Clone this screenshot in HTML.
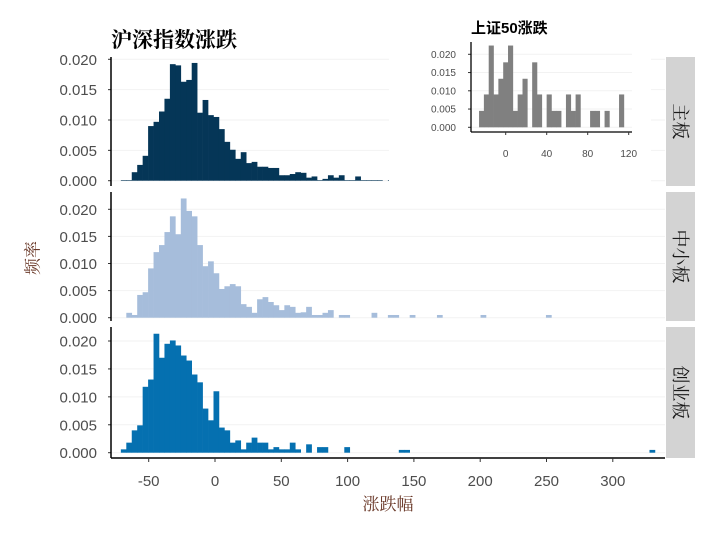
<!DOCTYPE html>
<html><head><meta charset="utf-8"><style>
body{margin:0;background:#fff}
svg{display:block;font-family:"Liberation Sans","Noto Sans CJK SC",sans-serif}
</style></head><body>
<svg id="chart" width="720" height="540" viewBox="0 0 720 540"></svg>
<script>
// ---- data ----
const binStart = -71;
const binWidth = 4.11;
const mainBoard = [0.0001,0.0001,0.0014,0.0026,0.0041,0.0090,0.0097,0.0114,0.0135,0.0192,0.0190,0.0163,0.0166,0.0194,0.0112,0.0133,0.0108,0.0105,0.0085,0.0064,0.0051,0.0036,0.0047,0.0029,0.0031,0.0023,0.0023,0.0021,0.0021,0.0009,0.0009,0.0011,0.0014,0.0013,0.0005,0.0007,0.0001,0.0003,0.0009,0.0005,0.0009,0.0001,0.0001,0.0007,0.0001,0.0001,0.0001,0.0001,0,0.0001];
const smeBoard = [0,0.0009,0.0005,0.0042,0.0047,0.0091,0.0121,0.0134,0.0158,0.0187,0.0154,0.0220,0.0197,0.0187,0.0134,0.0095,0.0104,0.0082,0.0053,0.0058,0.0062,0.0058,0.0025,0.0020,0.0009,0.0034,0.0038,0.0029,0.0023,0.0014,0.0023,0.0020,0.0009,0.0010,0.0020,0.0005,0.0005,0.0009,0.0014,0,0.0005,0.0005,0,0,0,0,0.0009,0,0,0.0005,0.0005,0,0,0.0005,0,0,0,0,0.0005,0,0,0,0,0,0,0,0.0005,0,0,0,0,0,0,0,0,0,0,0,0.0005];
const gemBoard = [0.0006,0.0018,0.0040,0.0049,0.0118,0.0131,0.0213,0.0170,0.0195,0.0201,0.0192,0.0174,0.0165,0.0140,0.0126,0.0079,0.0058,0.0110,0.0045,0.0040,0.0018,0.0022,0.0006,0.0018,0.0027,0.0018,0.0018,0.0006,0.0010,0.0006,0.0006,0.0018,0.0006,0,0.0015,0,0.0010,0.0010,0,0,0,0.0010,0,0,0,0,0,0,0,0,0,0.0005,0.0005,0,0,0,0,0,0,0,0,0,0,0,0,0,0,0,0,0,0,0,0,0,0,0,0,0,0,0,0,0,0,0,0,0,0,0,0,0,0,0,0,0,0,0,0,0.0005];
const insetStart = -26;
const insetWidth = 4.71;
const sz50 = [0.0045,0.009,0.0224,0.009,0.0133,0.0178,0.0224,0.0045,0.009,0.0133,0,0.0178,0.009,0,0.009,0.0045,0.0045,0,0.009,0.0045,0.009,0,0,0.0045,0.0045,0,0.0045,0,0,0.009];
const xTicks = [-50,0,50,100,150,200,250,300];
const yTicks = [0,0.005,0.010,0.015,0.020];
const insetXTicks = [0,40,80,120];
const facetLabels = ["主板","中小板","创业板"];

const svg = document.getElementById('chart');
const NS = 'http://www.w3.org/2000/svg';
function mk(tag, attrs, parent){const e=document.createElementNS(NS,tag);for(const k in attrs)e.setAttribute(k,attrs[k]);(parent||svg).appendChild(e);return e;}
const xs = v => 215 + v*1.326;
const panels = [
  {data:mainBoard,color:'#053657',top:57,bot:186,base:180.7,k:6070},
  {data:smeBoard,color:'#a6bddb',top:192,bot:321,base:317.7,k:5420},
  {data:gemBoard,color:'#0570b0',top:327,bot:458,base:452.7,k:5585}
];
panels.forEach((p,pi)=>{
  const g = mk('g',{});
  
  
  const ys = v => p.base - v*p.k;
  yTicks.forEach(t=>{
    const gl=mk('line',{x1:111,x2:665,y1:ys(t),y2:ys(t),stroke:'#f2f2f2','stroke-width':1},g);
    
    
    const tk=mk('line',{x1:108,x2:111,y1:ys(t),y2:ys(t),stroke:'#333','stroke-width':1},g);
    
    
    const tx=mk('text',{x:97,y:ys(t)+5.5,'text-anchor':'end','font-size':15,fill:'#4d4d4d'},g);
    tx.textContent=t.toFixed(3);
    
    
  });
  p.data.forEach((v,i)=>{
    if(v<=0)return;
    const x0=xs(binStart+i*binWidth), x1=xs(binStart+(i+1)*binWidth);
    const r=mk('rect',{x:x0,y:ys(v),width:x1-x0+0.3,height:p.base-ys(v),fill:p.color},g);
    
    
  });
  const ax=mk('line',{x1:111,x2:111,y1:p.top,y2:p.bot,stroke:'#000','stroke-width':1.5},g);
  
  
  const st=mk('rect',{x:666,y:p.top,width:29,height:p.bot-p.top,fill:'#d3d3d3'},g);
  
  
  const cy=(p.top+p.bot)/2;
  const sl=mk('text',{x:680,y:cy,'text-anchor':'middle','dominant-baseline':'central','font-size':18,fill:'#1a1a1a',transform:`rotate(90 680 ${cy})`,'font-family':'"Liberation Serif","Noto Serif CJK SC",serif'},g);
  sl.textContent=facetLabels[pi];
  
  
});
// x axis
const xa=mk('line',{x1:111,x2:665,y1:458,y2:458,stroke:'#000','stroke-width':1.5});


xTicks.forEach(t=>{
  const tk=mk('line',{x1:xs(t),x2:xs(t),y1:458,y2:462,stroke:'#333'});
  
  
  const tx=mk('text',{x:xs(t),y:486,'text-anchor':'middle','font-size':15,fill:'#4d4d4d'});
  tx.textContent=t<0?'-'+Math.abs(t):String(t);
  
  
});
const xt=mk('text',{x:388,y:510,'text-anchor':'middle','font-size':17,fill:'#6b3a2a','font-family':'"Liberation Serif","Noto Serif CJK SC",serif'});
xt.textContent='涨跌幅';


const yt=mk('text',{x:33,y:258,'text-anchor':'middle','dominant-baseline':'central','font-size':17,fill:'#6b3a2a',transform:'rotate(-90 33 258)','font-family':'"Liberation Serif","Noto Serif CJK SC",serif'});
yt.textContent='频率';


const tt=mk('text',{x:111,y:47,'font-size':21,'font-weight':'bold',fill:'#000','font-family':'"Liberation Serif","Noto Serif CJK SC",serif'});
tt.textContent='沪深指数涨跌';


// inset
const ig=mk('g',{});


mk('rect',{x:389,y:8,width:262,height:177,fill:'#fff'},ig);
const ixs=v=>505.7+v*1.025;
const iys=v=>127.3-v*3650;
yTicks.forEach(t=>{
  const gl=mk('line',{x1:471,x2:632,y1:iys(t),y2:iys(t),stroke:'#f2f2f2'},ig);
  
  
  const tk=mk('line',{x1:468,x2:471,y1:iys(t),y2:iys(t),stroke:'#333'},ig);
  
  
  const tx=mk('text',{x:456,y:iys(t)+3.5,'text-anchor':'end','font-size':10,fill:'#4d4d4d'},ig);
  tx.textContent=t.toFixed(3);
  
  
});
sz50.forEach((v,i)=>{
  if(v<=0)return;
  const x0=ixs(insetStart+i*insetWidth),x1=ixs(insetStart+(i+1)*insetWidth);
  const r=mk('rect',{x:x0,y:iys(v),width:x1-x0+0.3,height:127.3-iys(v),fill:'#808080'},ig);
  
  
});
const il=mk('line',{x1:471,x2:471,y1:42,y2:132,stroke:'#000','stroke-width':1.3},ig);


const ib=mk('line',{x1:471,x2:632,y1:132,y2:132,stroke:'#000','stroke-width':1.3},ig);


insetXTicks.forEach(t=>{
  const tk=mk('line',{x1:ixs(t),x2:ixs(t),y1:132,y2:135,stroke:'#333'},ig);
  
  
  const tx=mk('text',{x:ixs(t),y:157,'text-anchor':'middle','font-size':10,fill:'#4d4d4d'},ig);
  tx.textContent=String(t);
  
  
});
const it=mk('text',{x:471,y:33,'font-size':15,'font-weight':'bold',fill:'#000'},ig);
it.textContent='上证50涨跌';


</script>
</body></html>
